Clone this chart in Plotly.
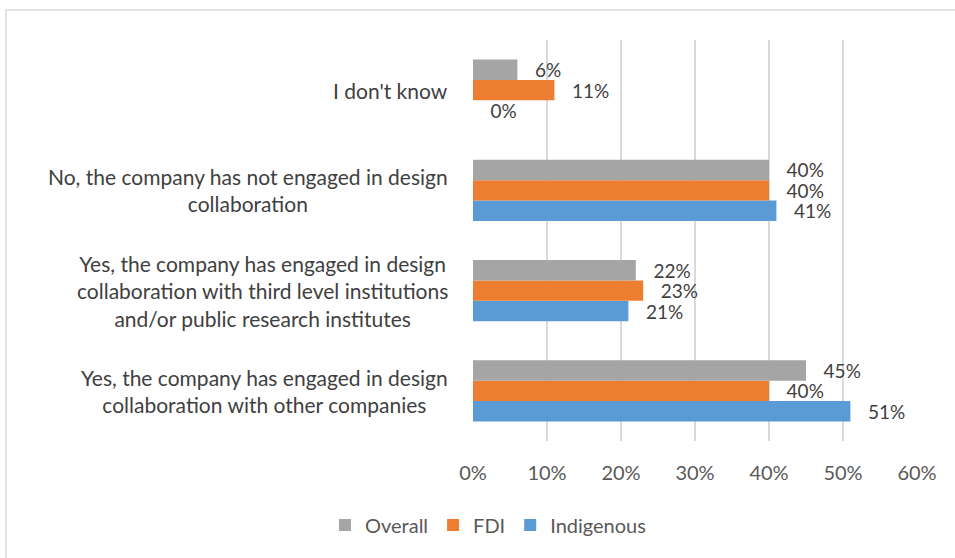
import plotly.graph_objects as go

# Survey responses on design collaboration, share of companies (%)
categories = [
    "Yes, the company has engaged in design<br>collaboration with other companies",
    "Yes, the company has engaged in design<br>collaboration with third level institutions<br>and/or public research institutes",
    "No, the company has not engaged in design<br>collaboration",
    "I don't know",
]
overall = [45, 22, 40, 6]
fdi = [40, 23, 40, 11]
indigenous = [51, 21, 41, 0]

x_ticks = [0, 10, 20, 30, 40, 50, 60]

FONT = "Lato"
LABEL_COLOR = "#404040"
AXIS_COLOR = "#595959"
GRID_COLOR = "#D9D9D9"

# Plot-area geometry in pixels (used to place the frame and labels)
W, H = 955, 558
L, R, T, B = 473, 38, 40, 117
PW, PH = W - L - R, H - T - B


def px_to_paper_x(px):
    return (px - L) / PW


def px_to_paper_y(py):
    return (H - B - py) / PH


series = [
    ("Indigenous", indigenous, "#5B9BD5"),
    ("FDI", fdi, "#ED7D31"),
    ("Overall", overall, "#A5A5A5"),
]

fig = go.Figure()
for name, vals, color in series:
    fig.add_trace(go.Bar(
        name=name,
        y=categories,
        x=vals,
        orientation="h",
        marker=dict(color=color, line=dict(width=0)),
        text=[f"\u00a0\u00a0\u00a0{v}%" for v in vals],
        textposition="outside",
        textfont=dict(family=FONT, size=19, color=LABEL_COLOR),
        constraintext="none",
        cliponaxis=False,
        hoverinfo="skip",
    ))

annotations = []
for cat in categories:
    annotations.append(dict(
        x=px_to_paper_x(450), xref="paper", xanchor="right",
        y=cat, yref="y", yanchor="middle",
        text=cat, showarrow=False, align="center",
        font=dict(family=FONT, size=21, color=LABEL_COLOR),
    ))

fig.update_layout(
    width=W, height=H,
    margin=dict(l=L, r=R, t=T, b=B, pad=0),
    paper_bgcolor="white",
    plot_bgcolor="white",
    barmode="group",
    bargap=0.39,
    bargroupgap=0,
    font=dict(family=FONT, color=AXIS_COLOR),
    xaxis=dict(
        range=[0, 60],
        tickvals=x_ticks,
        ticktext=[f"{t}%" for t in x_ticks],
        showgrid=True, gridcolor=GRID_COLOR, gridwidth=2,
        zeroline=False, showline=False,
        ticks="",
        ticklabelstandoff=18,
        tickfont=dict(family=FONT, size=20, color=AXIS_COLOR),
    ),
    yaxis=dict(
        categoryorder="array", categoryarray=categories,
        showticklabels=False, showgrid=False, zeroline=False,
        showline=False, ticks="",
    ),
    showlegend=True,
    legend=dict(
        orientation="h", traceorder="reversed",
        x=px_to_paper_x(488), xanchor="center",
        y=px_to_paper_y(525), yanchor="middle",
        font=dict(family=FONT, size=20, color=AXIS_COLOR),
        itemwidth=30,
    ),
    annotations=annotations,
    shapes=[dict(
        type="rect", xref="paper", yref="paper",
        x0=px_to_paper_x(6), x1=px_to_paper_x(970),
        y0=px_to_paper_y(575), y1=px_to_paper_y(10),
        line=dict(color=GRID_COLOR, width=1.5),
        fillcolor="rgba(0,0,0,0)", layer="below",
    )],
)

fig.write_html("out.html")
